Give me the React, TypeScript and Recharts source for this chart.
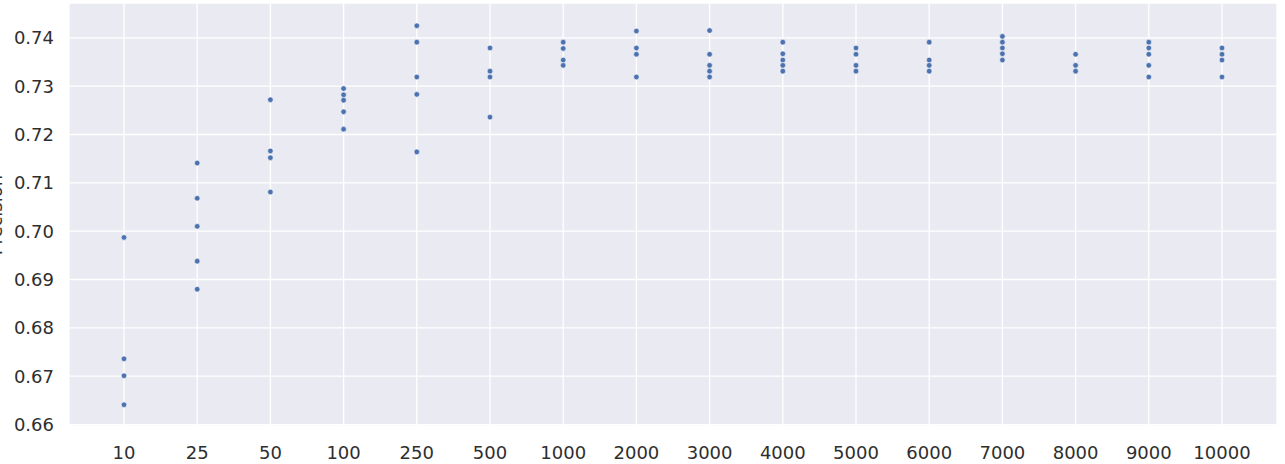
import { CartesianGrid, Scatter, ScatterChart, XAxis, YAxis } from 'recharts';

const sizes = ['10', '25', '50', '100', '250', '500', '1000', '2000', '3000', '4000', '5000', '6000', '7000', '8000', '9000', '10000'];

// precision values of the runs, one list per training size
const precision: number[][] = [
  [0.6987, 0.6736, 0.6701, 0.6641],
  [0.7141, 0.7068, 0.701, 0.6938, 0.688],
  [0.7272, 0.7166, 0.7152, 0.7081],
  [0.7295, 0.7282, 0.7271, 0.7247, 0.7211],
  [0.7425, 0.7391, 0.7319, 0.7283, 0.7164],
  [0.7379, 0.7331, 0.7319, 0.7236],
  [0.7391, 0.7378, 0.7354, 0.7343],
  [0.7414, 0.7379, 0.7366, 0.7319],
  [0.7415, 0.7366, 0.7343, 0.7331, 0.7319],
  [0.7391, 0.7367, 0.7354, 0.7343, 0.7331],
  [0.7379, 0.7366, 0.7343, 0.7331],
  [0.7391, 0.7354, 0.7343, 0.7331],
  [0.7403, 0.7391, 0.7379, 0.7367, 0.7354],
  [0.7366, 0.7343, 0.7331],
  [0.7391, 0.7379, 0.7366, 0.7343, 0.7319],
  [0.7379, 0.7366, 0.7354, 0.7319],
];

const yTicks = [0.66, 0.67, 0.68, 0.69, 0.7, 0.71, 0.72, 0.73, 0.74];

const points = precision.flatMap((vals, i) => vals.map((v) => ({ x: i, y: v })));

const tickStyle = { fill: '#2e2e2e', fontSize: 18, fontFamily: 'DejaVu Sans' };

const Dot = (props: any) => (
  <circle cx={props.cx} cy={props.cy} r={2.8} fill='#4C72B0' stroke='#ffffff' strokeWidth={0.6} />
);

export default function App() {
  return (
    <div style={{ position: 'absolute', left: 0, top: 0 }}>
      <ScatterChart width={1285} height={464} margin={{ top: 3, right: 8, bottom: 0, left: 0 }}>
        <CartesianGrid fill='#EAEAF2' stroke='#ffffff' strokeWidth={1.3} />
        <XAxis
          type='number'
          dataKey='x'
          domain={[0, sizes.length - 1]}
          ticks={sizes.map((_, i) => i)}
          tickFormatter={(i: number) => sizes[i]}
          padding={{ left: 55, right: 55 }}
          axisLine={false}
          tickLine={false}
          tickSize={0}
          tickMargin={20}
          height={38}
          tick={tickStyle}
          interval={0}
        />
        <YAxis
          type='number'
          dataKey='y'
          domain={[0.6597, 0.7472]}
          ticks={yTicks}
          tickFormatter={(v: number) => v.toFixed(2)}
          allowDataOverflow
          axisLine={false}
          tickLine={false}
          tickSize={0}
          tickMargin={15}
          width={69}
          tick={tickStyle}
          label={{
            content: () => (
              <text transform='translate(2, 215) rotate(-90)' textAnchor='middle' fill='#2e2e2e' fontSize={18} fontFamily='DejaVu Sans'>
                Precision
              </text>
            ),
          }}
        />
        <Scatter data={points} shape={Dot} isAnimationActive={false} />
      </ScatterChart>
    </div>
  );
}
